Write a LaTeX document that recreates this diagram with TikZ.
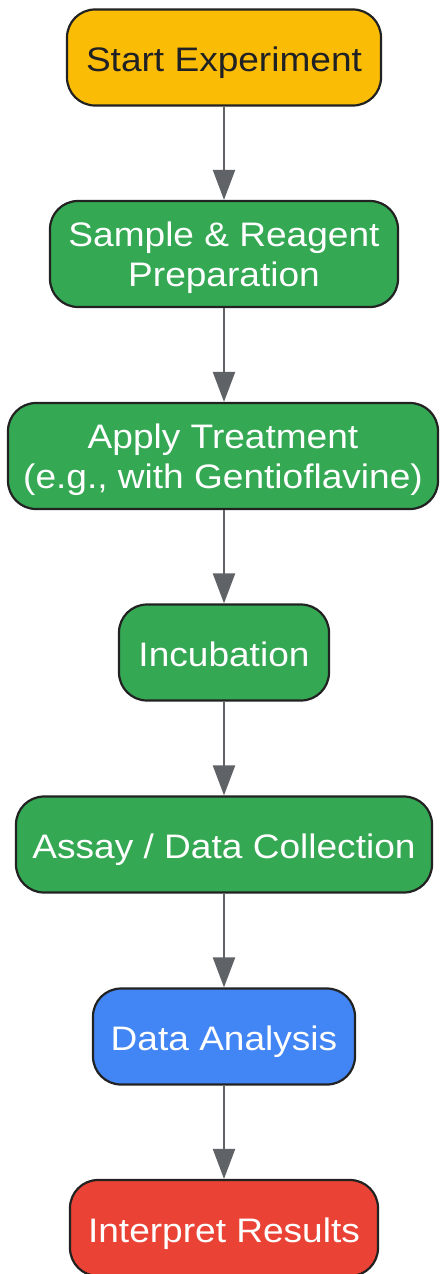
\documentclass[tikz,border=0pt]{standalone}
\usepackage{fontspec}
\setmainfont[FakeStretch=1.09]{Liberation Sans}
\usetikzlibrary{arrows.meta}
\definecolor{cyellow}{HTML}{FBBC05}
\definecolor{cgreen}{HTML}{34A853}
\definecolor{cblue}{HTML}{4285F4}
\definecolor{cred}{HTML}{EA4335}
\definecolor{cdark}{HTML}{202124}
\definecolor{carrow}{HTML}{5F6368}
\definecolor{cborder}{HTML}{222222}
\tikzset{
  box/.style={draw=cborder, line width=2.2pt, rectangle, rounded corners=28pt,
    inner sep=0pt, align=center, text=white, text depth=0pt,
    font=\fontsize{34}{40}\selectfont},
  oneline/.style={text height=28pt},
  conn/.style={draw=carrow, line width=2.2pt, -{Triangle[width=22pt,length=30pt]}}
}
\begin{document}
\begin{tikzpicture}[x=1pt,y=1pt]
\useasboundingbox (0,0) rectangle (439,-1274);
\node[box, oneline, fill=cyellow, text=cdark, minimum width=314pt, minimum height=96pt] (start) at (224,-57.5) {Start Experiment};
\node[box, fill=cgreen, minimum width=348pt, minimum height=106pt] (prep) at (224,-254) {Sample \& Reagent\\Preparation};
\node[box, fill=cgreen, minimum width=430pt, minimum height=106pt] (treat) at (223,-456) {Apply Treatment\\(e.g., with Gentioflavine)};
\node[box, oneline, fill=cgreen, minimum width=210pt, minimum height=96pt] (incub) at (224,-652.5) {Incubation};
\node[box, oneline, fill=cgreen, minimum width=416pt, minimum height=96pt] (assay) at (224,-844.5) {Assay / Data Collection};
\node[box, oneline, fill=cblue, minimum width=262pt, minimum height=96pt] (anal) at (224,-1036.5) {Data Analysis};
\node[box, oneline, fill=cred, minimum width=308pt, minimum height=96pt] (interp) at (224,-1228) {Interpret Results};
\draw[conn] (start.south) -- (prep.north);
\draw[conn] (prep.south) -- (prep.south |- treat.north);
\draw[conn] (prep.south |- treat.south) -- (incub.north);
\draw[conn] (incub.south) -- (assay.north);
\draw[conn] (assay.south) -- (anal.north);
\draw[conn] (anal.south) -- (interp.north);
\end{tikzpicture}
\end{document}
